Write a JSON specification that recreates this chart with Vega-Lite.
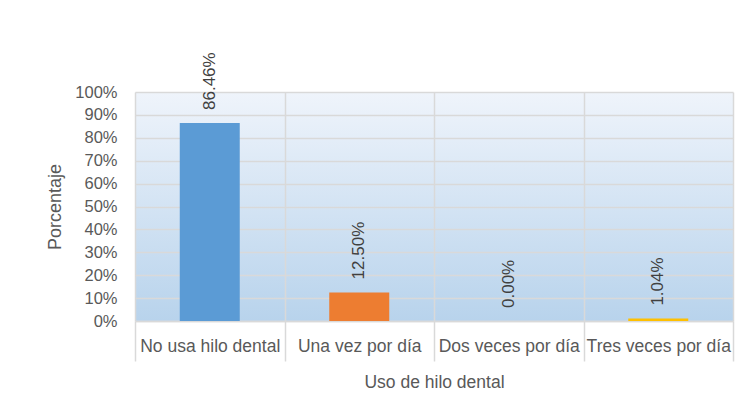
{
  "$schema": "https://vega.github.io/schema/vega-lite/v6.json",
  "width": 598,
  "height": 229,
  "autosize": {"type": "none"},
  "padding": {"left": 135, "top": 92, "right": 14, "bottom": 80},
  "background": "white",
  "config": {
    "font": "Liberation Sans",
    "view": {
      "stroke": null,
      "fill": {
        "gradient": "linear",
        "x1": 0, "y1": 0, "x2": 0, "y2": 1,
        "stops": [
          {"offset": 0, "color": "#eff4fb"},
          {"offset": 1, "color": "#b8d3ec"}
        ]
      }
    }
  },
  "data": {
    "values": [
      {"categoria": "No usa hilo dental", "valor": 0.8646},
      {"categoria": "Una vez por día", "valor": 0.125},
      {"categoria": "Dos veces por día", "valor": 0.0},
      {"categoria": "Tres veces por día", "valor": 0.0104}
    ]
  },
  "encoding": {
    "x": {
      "field": "categoria",
      "type": "nominal",
      "sort": null,
      "scale": {"paddingInner": 0, "paddingOuter": 0},
      "axis": {
        "title": "Uso de hilo dental",
        "titleFont": "Liberation Sans",
        "titleFontSize": 17.5,
        "titleFontWeight": "normal",
        "titleColor": "#595959",
        "titlePadding": 12,
        "labelAngle": 0,
        "labelFontSize": 17.5,
        "labelColor": "#595959",
        "labelPadding": -24,
        "labelOverlap": false,
        "labelLimit": 0,
        "tickBand": "extent",
        "tickSize": 40,
        "tickColor": "#d9d9d9",
        "tickWidth": 1.5,
        "domainColor": "#d9d9d9",
        "domainWidth": 1.5,
        "grid": true,
        "gridColor": "#d9d9d9",
        "gridWidth": 1.5
      }
    },
    "y": {
      "field": "valor",
      "type": "quantitative",
      "scale": {"domain": [0, 1], "nice": false},
      "axis": {
        "title": "Porcentaje",
        "titleFont": "Liberation Sans",
        "titleFontSize": 18,
        "titleFontWeight": "normal",
        "titleColor": "#595959",
        "titlePadding": 10,
        "format": ".0%",
        "values": [0, 0.1, 0.2, 0.3, 0.4, 0.5, 0.6, 0.7, 0.8, 0.9, 1],
        "labelFontSize": 16.5,
        "labelColor": "#595959",
        "labelPadding": 18,
        "ticks": false,
        "domain": false,
        "grid": true,
        "gridColor": "#d9d9d9",
        "gridWidth": 1.5
      }
    }
  },
  "layer": [
    {
      "mark": {"type": "bar", "width": 60},
      "encoding": {
        "color": {
          "field": "categoria",
          "type": "nominal",
          "sort": null,
          "scale": {
            "domain": ["No usa hilo dental", "Una vez por día", "Dos veces por día", "Tres veces por día"],
            "range": ["#5b9bd5", "#ed7d31", "#a5a5a5", "#ffc000"]
          },
          "legend": null
        }
      }
    },
    {
      "mark": {
        "type": "text",
        "angle": -90,
        "align": "left",
        "baseline": "middle",
        "dx": 13,
        "fontSize": 17,
        "color": "#404040",
        "font": "Liberation Sans"
      },
      "encoding": {
        "text": {"field": "valor", "type": "quantitative", "format": ".2%"}
      }
    }
  ]
}
